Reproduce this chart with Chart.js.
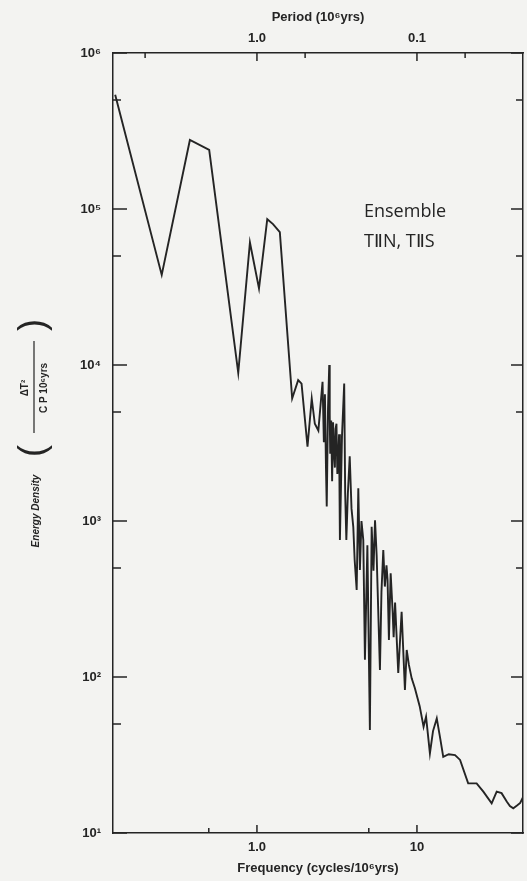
<!DOCTYPE html>
<html>
<head>
<meta charset="utf-8">
<script src="https://cdn.jsdelivr.net/npm/chart.js@4.4.1/dist/chart.umd.min.js"></script>
<style>
  html, body { margin: 0; padding: 0; background: #f3f3f1; }
  canvas { display: block; }
</style>
</head>
<body>
<canvas id="grafico" width="527" height="881"></canvas>
<script>
// frequency (cycles / 10^6 yrs) and energy density
const freq = [
  0.13, 0.254, 0.381, 0.503, 0.764, 0.904, 1.03, 1.16, 1.26, 1.39,
  1.66, 1.81, 1.90, 2.07, 2.20, 2.30, 2.42, 2.57, 2.62, 2.66,
  2.70, 2.73, 2.78, 2.83, 2.85, 2.87, 2.91, 2.95, 2.99, 3.04,
  3.07, 3.10, 3.14, 3.18, 3.22, 3.26, 3.30, 3.40, 3.51, 3.56,
  3.62, 3.70, 3.80, 3.90, 4.00, 4.08, 4.20, 4.30, 4.40, 4.50,
  4.62, 4.73, 4.90, 5.08, 5.21, 5.35, 5.47, 5.60, 5.87, 6.00,
  6.16, 6.30, 6.45, 6.55, 6.68, 6.85, 7.05, 7.15, 7.30, 7.64,
  8.02, 8.41, 8.63, 8.90, 9.27, 9.70, 10.4, 11.0, 11.4, 12.05,
  12.6, 13.3, 14.0, 14.6, 15.8, 17.3, 18.6, 20.9, 23.6, 26.0,
  29.3, 31.5, 33.8, 36.4, 38.1, 40.0, 42.2, 44.2, 46
];
const energy = [
  5.4e5, 3.78e4, 2.77e5, 2.39e5, 8.9e3, 6.1e4, 3.1e4, 8.6e4, 8.0e4, 7.1e4,
  6100, 8000, 7600, 3000, 6100, 4200, 3800, 7800, 3200, 6500,
  2200, 1240, 5200, 10000, 4800, 2700, 4400, 1800, 4300, 2600,
  2200, 3900, 4200, 2000, 2400, 3600, 755, 3500, 7600, 1500,
  755, 1500, 2600, 1200, 918, 562, 361, 1620, 486, 1000,
  755, 129, 700, 45.7, 918, 480, 1010, 600, 111, 350,
  651, 380, 520, 420, 173, 462, 260, 180, 300, 106,
  262, 82.6, 149, 120, 98, 85, 65, 48, 55.7, 32.4,
  45, 54.3, 40, 30.8, 32, 31.6, 29.4, 20.8, 20.8, 18.4,
  15.5, 18.4, 18, 15.9, 14.9, 14.4, 15, 15.6, 17
];

const xMin = 0.126;
const xMax = 46;
const yMin = 10;
const yMax = 1e6;

const freqTicks = [0.5, 1, 5, 10];
const freqTickLabels = ["", "1.0", "", "10"];
// top axis: period = 1 / frequency
const periodTicks = [5, 1, 0.5, 0.1, 0.05];
const periodTickLabels = ["", "1.0", "", "0.1", ""];
const yTicks = [10, 50, 100, 500, 1e3, 5e3, 1e4, 5e4, 1e5, 5e5, 1e6];
const yTickLabels = ["10¹", "", "10²", "", "10³", "", "10⁴", "", "10⁵", "", "10⁶"];

const ink = "#242424";
const fonte = "'Liberation Sans', Arial, sans-serif";

const pontos = freq.map((f, i) => ({ x: f, y: energy[i] }));

function isDecade(v) {
  const l = Math.log10(v);
  return Math.abs(l - Math.round(l)) < 1e-6;
}

const fundo = {
  id: "fundo",
  beforeDraw(chart) {
    const ctx = chart.ctx;
    ctx.save();
    ctx.fillStyle = "#f3f3f1";
    ctx.fillRect(0, 0, chart.width, chart.height);
    ctx.restore();
  },
};

// tick marks point into the plot, like the original figure
const marcas = {
  id: "marcas",
  afterDraw(chart) {
    const ctx = chart.ctx;
    const a = chart.chartArea;
    const s = chart.scales;
    ctx.save();
    ctx.strokeStyle = ink;
    ctx.lineWidth = 1.5;
    ctx.beginPath();
    s.x.ticks.forEach((t) => {
      const p = s.x.getPixelForValue(t.value);
      const len = isDecade(t.value) ? 8 : 5;
      ctx.moveTo(p, a.bottom);
      ctx.lineTo(p, a.bottom - len);
    });
    s.x2.ticks.forEach((t) => {
      const p = s.x2.getPixelForValue(t.value);
      const len = isDecade(t.value) ? 8 : 5;
      ctx.moveTo(p, a.top);
      ctx.lineTo(p, a.top + len);
    });
    s.y.ticks.forEach((t) => {
      const p = s.y.getPixelForValue(t.value);
      const len = isDecade(t.value) ? 14 : 8;
      ctx.moveTo(a.left, p);
      ctx.lineTo(a.left + len, p);
      const len2 = isDecade(t.value) ? 12 : 7;
      ctx.moveTo(a.right, p);
      ctx.lineTo(a.right - len2, p);
    });
    ctx.stroke();

    // legend text
    ctx.fillStyle = ink;
    ctx.font = "500 18px 'Open Sans', " + fonte;
    ctx.textAlign = "left";
    ctx.textBaseline = "middle";
    ctx.fillText("Ensemble", 364, 212);
    ctx.fillText("TⅡN, TⅡS", 364, 242);

    // y axis title with fraction
    ctx.translate(34, 445);
    ctx.rotate(-Math.PI / 2);
    ctx.textAlign = "center";
    ctx.font = "italic bold 10px " + fonte;
    ctx.fillText("Energy Density", -66, 2);
    ctx.font = "36px " + fonte;
    ctx.fillText("(", -6, 0);
    ctx.fillText(")", 120, 0);
    ctx.font = "bold 10px " + fonte;
    ctx.fillText("ΔT²", 57, -9);
    ctx.fillText("C P 10⁶yrs", 57, 10);
    ctx.beginPath();
    ctx.lineWidth = 1.2;
    ctx.moveTo(12, 0);
    ctx.lineTo(104, 0);
    ctx.stroke();
    ctx.restore();
  },
};

const tickFont = { family: fonte, size: 13, weight: "bold" };
const titleFont = { family: fonte, size: 13, weight: "bold" };

new Chart(document.getElementById("grafico"), {
  type: "line",
  data: {
    datasets: [
      {
        data: pontos,
        borderColor: ink,
        borderWidth: 1.9,
        pointRadius: 0,
        tension: 0,
        fill: false,
      },
    ],
  },
  options: {
    responsive: false,
    animation: false,
    layout: { padding: 0 },
    plugins: { legend: { display: false }, tooltip: { enabled: false } },
    scales: {
      x: {
        type: "logarithmic",
        position: "bottom",
        min: xMin,
        max: xMax,
        afterBuildTicks: (sc) => { sc.ticks = freqTicks.map((v) => ({ value: v })); },
        afterFit: (sc) => { sc.height = 48; },
        ticks: {
          autoSkip: false,
          maxRotation: 0,
          padding: 7,
          color: ink,
          font: tickFont,
          callback: (v, i) => freqTickLabels[i],
        },
        grid: { drawOnChartArea: false, drawTicks: false },
        border: { display: true, color: ink, width: 1.5 },
        title: {
          display: true,
          text: "Frequency (cycles/10⁶yrs)",
          color: ink,
          font: titleFont,
          padding: { top: 0, bottom: 5 },
        },
      },
      x2: {
        type: "logarithmic",
        position: "top",
        min: xMin,
        max: xMax,
        afterBuildTicks: (sc) => { sc.ticks = periodTicks.map((p) => ({ value: 1 / p })); },
        afterFit: (sc) => { sc.height = 53; },
        ticks: {
          autoSkip: false,
          maxRotation: 0,
          padding: 7,
          color: ink,
          font: tickFont,
          callback: (v, i) => periodTickLabels[i],
        },
        grid: { drawOnChartArea: false, drawTicks: false },
        border: { display: true, color: ink, width: 1.5 },
        title: {
          display: true,
          text: "Period (10⁶yrs)",
          color: ink,
          font: titleFont,
          padding: { top: 10, bottom: 0 },
        },
      },
      y: {
        type: "logarithmic",
        position: "left",
        min: yMin,
        max: yMax,
        afterBuildTicks: (sc) => { sc.ticks = yTicks.map((v) => ({ value: v })); },
        afterFit: (sc) => { sc.width = 113; },
        ticks: {
          autoSkip: false,
          padding: 12,
          color: ink,
          font: tickFont,
          callback: (v, i) => yTickLabels[i],
        },
        grid: { drawOnChartArea: false, drawTicks: false },
        border: { display: true, color: ink, width: 1.5 },
      },
      y2: {
        type: "logarithmic",
        position: "right",
        min: yMin,
        max: yMax,
        afterBuildTicks: (sc) => { sc.ticks = yTicks.map((v) => ({ value: v })); },
        afterFit: (sc) => { sc.width = 4; },
        ticks: { display: false },
        grid: { drawOnChartArea: false, drawTicks: false },
        border: { display: true, color: ink, width: 1.5 },
      },
    },
  },
  plugins: [fundo, marcas],
});
</script>
</body>
</html>
